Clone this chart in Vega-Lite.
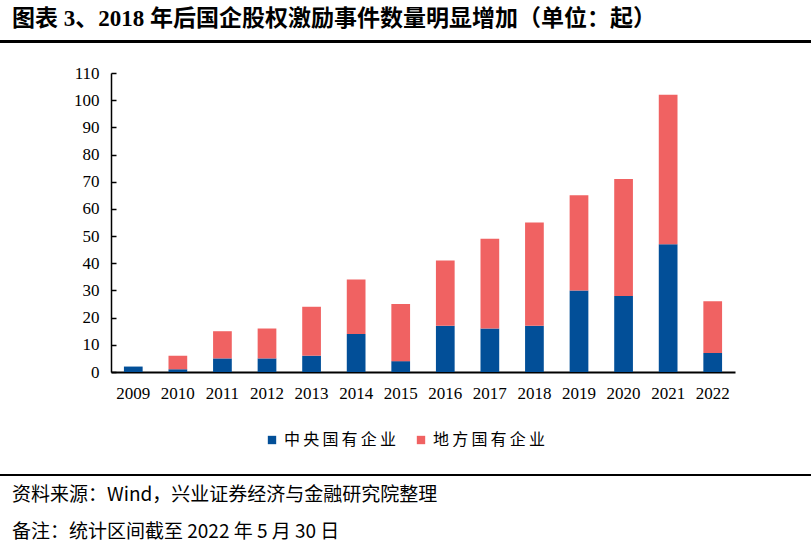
{
  "$schema": "https://vega.github.io/schema/vega-lite/v6.json",
  "padding": {"top": 8, "left": 0, "right": 0, "bottom": 0},
  "background": "white",
  "spacing": 0,
  "title": {"text": "图表 3、2018 年后国企股权激励事件数量明显增加（单位：起）", "anchor": "start", "font": "Liberation Serif, Noto Sans CJK SC", "fontSize": 23, "fontWeight": "bold", "color": "black", "dx": 12, "offset": 9, "frame": "group"},
  "config": {"view": {"stroke": null}},
  "resolve": {"legend": {"color": "independent"}, "scale": {"x": "independent", "y": "independent", "color": "independent"}},
  "vconcat": [
    {"width": 811, "height": 3, "data": {"values": [{"a": 0, "b": 1}]}, "mark": {"type": "rect", "color": "black"},
      "encoding": {"x": {"field": "a", "type": "quantitative", "scale": {"domain": [0, 1]}, "axis": null}, "x2": {"field": "b"},
                   "y": {"field": "a", "type": "quantitative", "scale": {"domain": [0, 1]}, "axis": null}, "y2": {"field": "b"}}},
    {"width": 811, "height": 21, "data": {"values": [{}]}, "mark": {"type": "point", "opacity": 0}, "encoding": {}},
    {"hconcat": [
      {"width": 11, "height": 299, "data": {"values": [{}]}, "mark": {"type": "point", "opacity": 0}, "encoding": {}},
      {
      "width": 624,
      "height": 299,
      "data": {"values": [
        {"年份": "2009", "类型": "中央国有企业", "数量": 2},
        {"年份": "2009", "类型": "地方国有企业", "数量": 0},
        {"年份": "2010", "类型": "中央国有企业", "数量": 1},
        {"年份": "2010", "类型": "地方国有企业", "数量": 5},
        {"年份": "2011", "类型": "中央国有企业", "数量": 5},
        {"年份": "2011", "类型": "地方国有企业", "数量": 10},
        {"年份": "2012", "类型": "中央国有企业", "数量": 5},
        {"年份": "2012", "类型": "地方国有企业", "数量": 11},
        {"年份": "2013", "类型": "中央国有企业", "数量": 6},
        {"年份": "2013", "类型": "地方国有企业", "数量": 18},
        {"年份": "2014", "类型": "中央国有企业", "数量": 14},
        {"年份": "2014", "类型": "地方国有企业", "数量": 20},
        {"年份": "2015", "类型": "中央国有企业", "数量": 4},
        {"年份": "2015", "类型": "地方国有企业", "数量": 21},
        {"年份": "2016", "类型": "中央国有企业", "数量": 17},
        {"年份": "2016", "类型": "地方国有企业", "数量": 24},
        {"年份": "2017", "类型": "中央国有企业", "数量": 16},
        {"年份": "2017", "类型": "地方国有企业", "数量": 33},
        {"年份": "2018", "类型": "中央国有企业", "数量": 17},
        {"年份": "2018", "类型": "地方国有企业", "数量": 38},
        {"年份": "2019", "类型": "中央国有企业", "数量": 30},
        {"年份": "2019", "类型": "地方国有企业", "数量": 35},
        {"年份": "2020", "类型": "中央国有企业", "数量": 28},
        {"年份": "2020", "类型": "地方国有企业", "数量": 43},
        {"年份": "2021", "类型": "中央国有企业", "数量": 47},
        {"年份": "2021", "类型": "地方国有企业", "数量": 55},
        {"年份": "2022", "类型": "中央国有企业", "数量": 7},
        {"年份": "2022", "类型": "地方国有企业", "数量": 19}
      ]},
      "mark": {"type": "bar"},
      "encoding": {
        "x": {"field": "年份", "type": "ordinal", "scale": {"paddingInner": 0.58, "paddingOuter": 0.29},
          "axis": {"title": null, "labelAngle": 0, "ticks": false, "domainColor": "black", "domainWidth": 2, "labelFont": "Liberation Serif", "labelFontSize": 17, "labelColor": "black", "labelPadding": 13}},
        "y": {"field": "数量", "type": "quantitative", "stack": "zero", "scale": {"domain": [0, 110]},
          "axis": {"title": null, "values": [0, 10, 20, 30, 40, 50, 60, 70, 80, 90, 100, 110], "grid": false, "tickSize": -5, "tickColor": "black", "tickWidth": 1.5, "domainColor": "black", "domainWidth": 1.5, "labelFont": "Liberation Serif", "labelFontSize": 17, "labelColor": "black", "labelPadding": 17, "minExtent": 100, "maxExtent": 100}},
        "color": {"field": "类型", "type": "nominal",
          "scale": {"domain": ["中央国有企业", "地方国有企业"], "range": ["#024F98", "#F06262"]},
          "legend": {"orient": "none", "legendX": 153, "legendY": 359, "direction": "horizontal", "title": null, "symbolType": "square", "symbolSize": 70, "labelFont": "Noto Sans CJK SC", "labelFontSize": 16, "labelColor": "black", "columnPadding": 16, "labelExpr": "join(split(datum.label, ''), '\u2009')"}},
        "order": {"field": "类型", "sort": "ascending"}
      }
    }], "spacing": 0, "resolve": {"legend": {"color": "independent"}}},
    {"width": 811, "height": 26, "data": {"values": [{}]}, "mark": {"type": "point", "opacity": 0}, "encoding": {}},
    {"width": 811, "height": 2, "data": {"values": [{"a": 0, "b": 1}]}, "mark": {"type": "rect", "color": "black"},
      "encoding": {"x": {"field": "a", "type": "quantitative", "scale": {"domain": [0, 1]}, "axis": null}, "x2": {"field": "b"},
                   "y": {"field": "a", "type": "quantitative", "scale": {"domain": [0, 1]}, "axis": null}, "y2": {"field": "b"}},
      "title": {"text": ["资料来源：Wind，兴业证券经济与金融研究院整理", "备注：统计区间截至 2022 年 5 月 30 日"], "orient": "bottom", "anchor": "start", "dx": 12, "offset": 10, "lineHeight": 37, "font": "Noto Sans CJK SC", "fontSize": 19, "fontWeight": "normal", "color": "black", "frame": "group"}}
  ]
}
